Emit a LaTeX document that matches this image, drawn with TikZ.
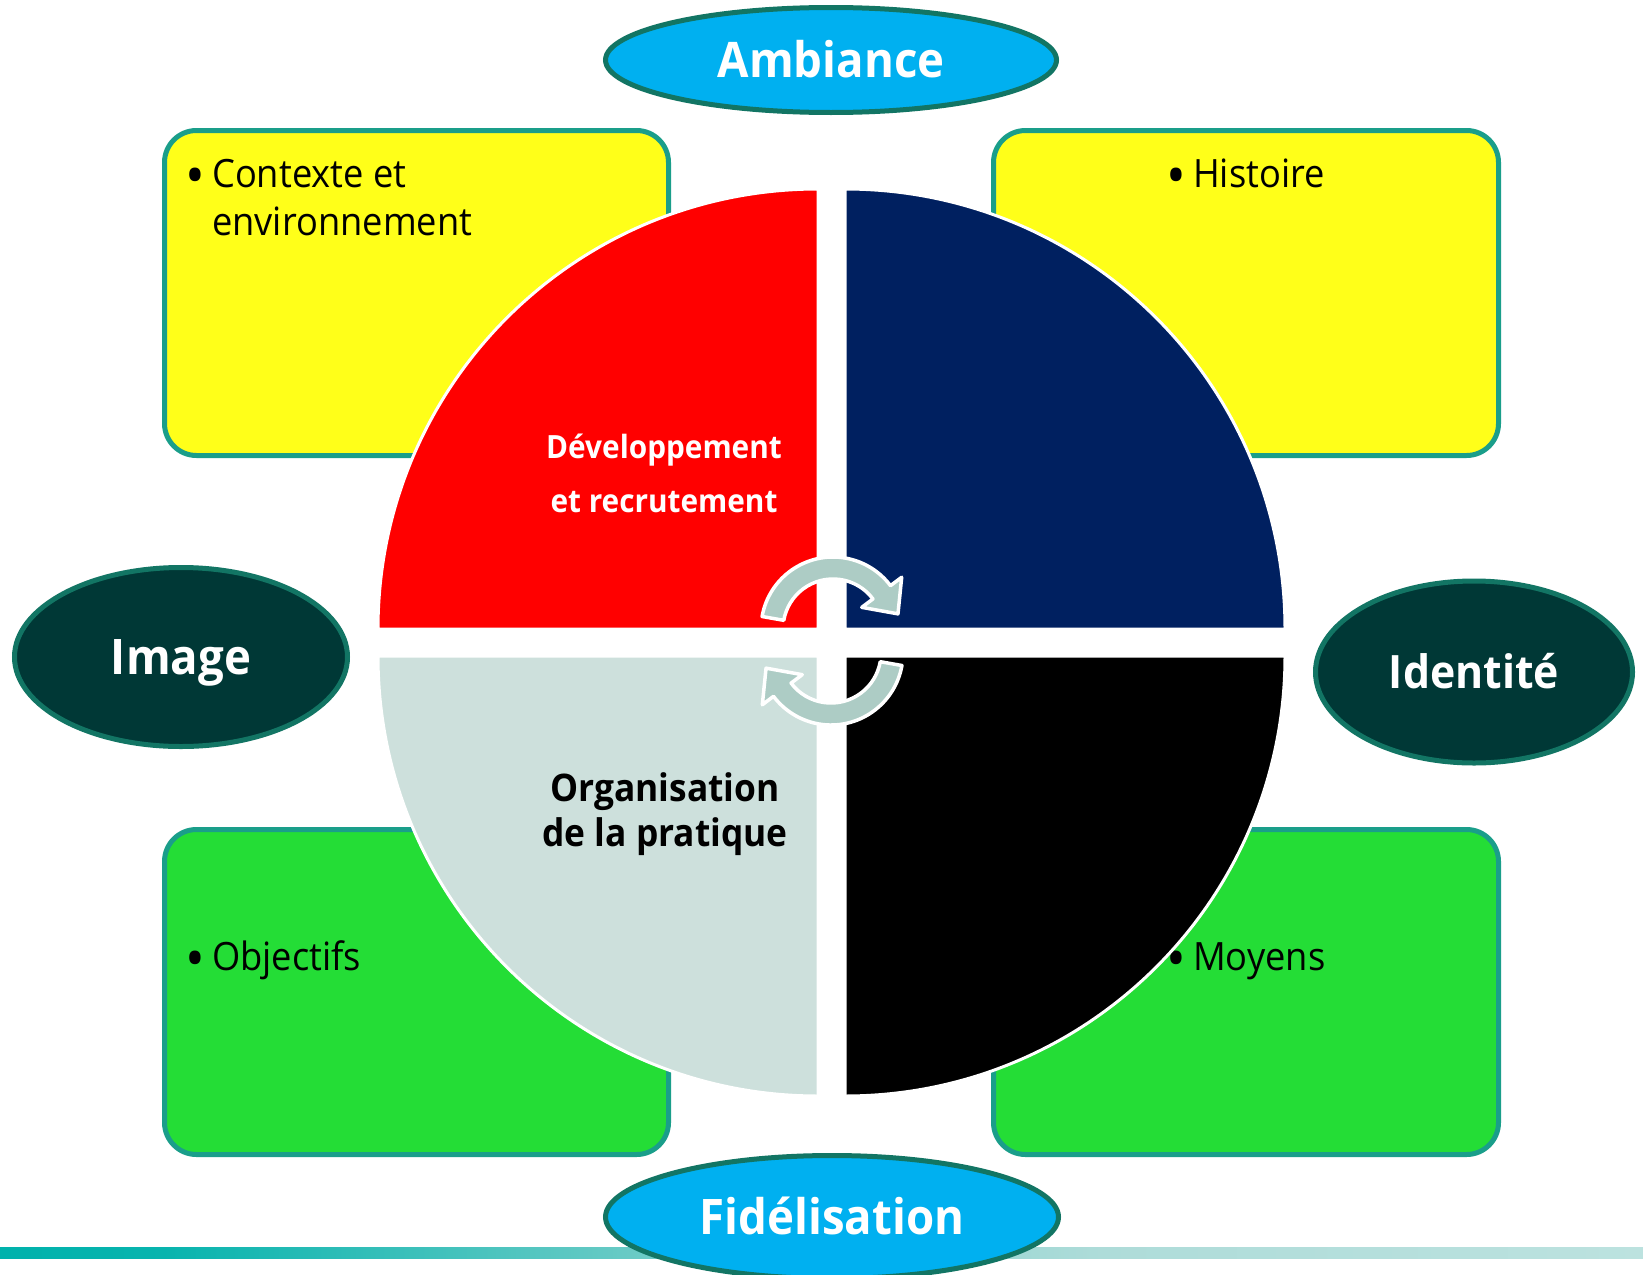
\documentclass[tikz,border=0pt]{standalone}
\usepackage{fontspec}
\setmainfont{Open Sans}[FakeStretch=0.93]
\usetikzlibrary{calc,shapes.geometric}
\definecolor{yel}{HTML}{FFFF19}
\definecolor{grn}{HTML}{24DD36}
\definecolor{boxborder}{HTML}{1A9E8A}
\definecolor{ellblue}{HTML}{00B0F0}
\definecolor{ellborder}{HTML}{127564}
\definecolor{elldark}{HTML}{003836}
\definecolor{qred}{HTML}{FF0000}
\definecolor{qnavy}{HTML}{002060}
\definecolor{qgray}{HTML}{CDE0DC}
\definecolor{arrowc}{HTML}{ADCCC5}
\definecolor{lnA}{HTML}{00B2AC}
\definecolor{lnB}{HTML}{08B4AE}
\definecolor{lnC}{HTML}{78CEC9}
\definecolor{lnD}{HTML}{AEDCD9}
\definecolor{lnE}{HTML}{BCE2DF}
\pgfdeclarehorizontalshading{lineshade}{100bp}{color(0bp)=(lnA); color(25bp)=(lnA); color(30bp)=(lnB); color(46.5bp)=(lnC); color(58.5bp)=(lnD); color(75bp)=(lnE); color(100bp)=(lnE)}
\newcommand{\bul}{\makebox[27pt][l]{\raisebox{-8pt}{\scalebox{1.45}{•}}}}
\begin{document}
\begin{tikzpicture}[x=1pt,y=-1pt,
  infobox/.style={draw=boxborder, line width=5pt, rounded corners=32pt},
  quad/.style={draw=white, line width=3pt},
  cyc/.style={fill=arrowc, draw=white, line width=3.5pt, line join=round},
  ell/.style={ellipse, draw=ellborder, line width=5pt, inner sep=0pt, text=white,
    font=\bfseries\fontsize{49}{58}\selectfont, text height=35pt, text depth=0pt},
  btxt/.style={inner sep=0pt, align=left, text=black, font=\fontsize{39}{48}\selectfont},
  qtxt/.style={inner sep=0pt, align=center}
]
\useasboundingbox (0,0) rectangle (1643,1274);
\clip (0,0) rectangle (1643,1274);
\fill[white] (0,0) rectangle (1643,1274);

% bottom gradient line
\shade[shading=lineshade] (0,1247) rectangle (1643,1258);

% boxes
\path[infobox, fill=yel] (164.5,130.5) rectangle (668.5,455.5);
\path[infobox, fill=yel] (993.5,130.5) rectangle (1498.5,455.5);
\path[infobox, fill=grn] (164.5,829.5) rectangle (668.5,1154.5);
\path[infobox, fill=grn] (993.5,829.5) rectangle (1498.5,1154.5);

% bullet texts (base anchor = last line)
\node[btxt, anchor=base west] (t1) at (185,235) {\bul Contexte et\\\hspace*{27pt}environnement};
\node[btxt, anchor=base west] (t2) at (1166,187) {\bul Histoire};
\node[btxt, anchor=base west] (t3) at (185,970) {\bul Objectifs};
\node[btxt, anchor=base west] (t4) at (1166,970) {\bul Moyens};

% quadrants
\path[quad, fill=qred] (818,629) -- (378,629) arc[start angle=180, end angle=270, radius=440] -- cycle;
\path[quad, fill=qnavy] (845,629) -- (845,189) arc[start angle=270, end angle=360, radius=440] -- cycle;
\path[quad, fill=qgray] (818,656) -- (378,656) arc[start angle=180, end angle=90, radius=440] -- cycle;
\path[quad, fill=black] (845,656) -- (1285,656) arc[start angle=0, end angle=90, radius=440] -- cycle;

% cycle arrows
\coordinate (ca) at (833,629);
\coordinate (cb) at (831,653);
\path[cyc] ($(ca)+(190:72)$) arc[start angle=190, end angle=323, radius=72]
  -- ($(ca)+(323:86)$) -- ($(ca)+(323:61)+(53:27)$) -- ($(ca)+(323:36)$)
  -- ($(ca)+(323:50)$) arc[start angle=323, end angle=190, radius=50] -- cycle;
\path[cyc] ($(cb)+(10:72)$) arc[start angle=10, end angle=143, radius=72]
  -- ($(cb)+(143:86)$) -- ($(cb)+(143:61)+(233:27)$) -- ($(cb)+(143:36)$)
  -- ($(cb)+(143:50)$) arc[start angle=143, end angle=10, radius=50] -- cycle;

% quadrant texts
\node[qtxt, anchor=base, text=white, font=\bfseries\fontsize{32}{54}\selectfont] (dev) at (664,512) {Développement\\et recrutement};
\node[qtxt, anchor=base, text=black, font=\bfseries\fontsize{38}{45}\selectfont] (org) at (665,846) {Organisation\\de la pratique};

% ellipses
\node[ell, fill=ellblue, minimum width=451pt, minimum height=105pt] (amb) at (831,60) {Ambiance};
\node[ell, fill=ellblue, minimum width=453pt, minimum height=123pt] (fid) at (832,1217) {Fidélisation};
\node[ell, fill=elldark, minimum width=333pt, minimum height=179pt] (img) at (181,657) {Image};
\node[ell, fill=elldark, minimum width=317pt, minimum height=182pt, text height=33pt, font=\bfseries\fontsize{46}{55}\selectfont] (ide) at (1474,672) {Identité};
\end{tikzpicture}
\end{document}
